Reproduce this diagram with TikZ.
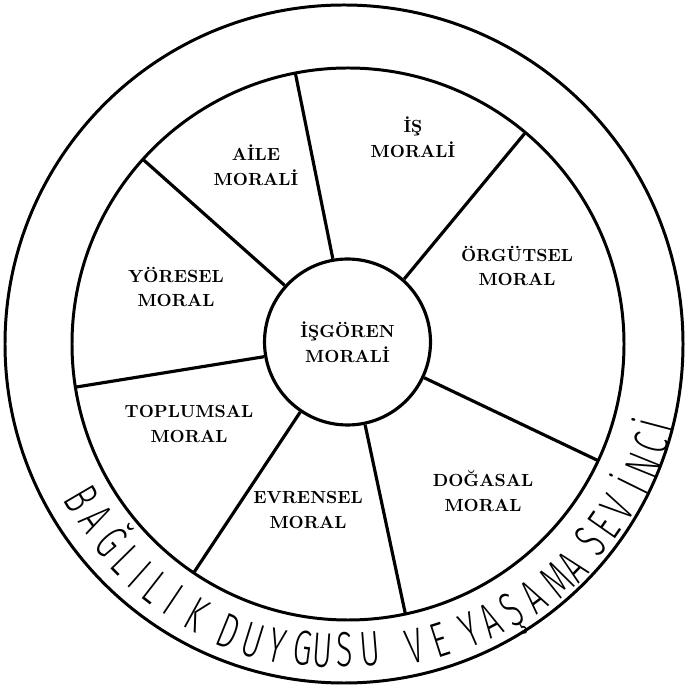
\documentclass[tikz,border=0pt]{standalone}
\usepackage{fontspec}
\newfontfamily\ringfont[UprightFont={* Light}, FakeStretch=0.62]{Fira Sans}

\begin{document}
\begin{tikzpicture}[
    x=0.02cm, y=0.02cm,
    rim/.style={line width=1.7pt},
    spoke/.style={line width=1.8pt},
    hub/.style={circle, draw, line width=1.8pt, minimum size=3.32cm, inner sep=0pt, align=center, font=\bfseries\fontsize{10}{14}\selectfont},
    sector/.style={align=center, font=\bfseries\fontsize{10}{14}\selectfont},
    letter/.style={anchor=center, inner sep=0pt, text height=19.3pt, text depth=0pt, font=\ringfont\fontsize{28}{32}\selectfont}
]
    \useasboundingbox (0,0) rectangle (685,686);
    \coordinate (ctr) at (345,342);
    \coordinate (ringc) at (348,342);
    \draw[rim] (344,342) circle[radius=339];
    \draw[rim] (ringc) circle[radius=276];
    \node[hub] (hub) at (347.5,344) {İŞGÖREN\\MORALİ};
    % spokes between hub and ring
    \foreach \a/\b [count=\i] in {100/101, 48/50, 335/335, 282/282, 236/236, 190/189, 138/138} {
        \coordinate (rim\i) at ([shift={(\b:276)}]ringc);
        \draw[spoke] (hub.\a) -- (rim\i);
    }
    \node[sector] (aile) at (256,521) {AİLE\\MORALİ};
    \node[sector] (is) at (413,549) {İŞ\\MORALİ};
    \node[sector] (orgut) at (517,420) {ÖRGÜTSEL\\MORAL};
    \node[sector] (yore) at (176,399) {YÖRESEL\\MORAL};
    \node[sector] (toplum) at (189,262) {TOPLUMSAL\\MORAL};
    \node[sector] (evren) at (308,176) {EVRENSEL\\MORAL};
    \node[sector] (doga) at (483,195) {DOĞASAL\\MORAL};
    % ring text, one letter at a time: letter/angle/radius
    \foreach \ch/\a/\r [count=\i] in {B/210.4/305, A/215.1/304, Ğ/220.3/306, L/224.5/308, I/228.4/309,
        L/232.1/309, I/236.2/308, K/241.3/309, D/247.9/310, U/252.8/310, Y/257.2/309,
        G/262.2/307, U/265.9/307, S/270/306, U/274.7/306, V/283/310, E/287.8/311,
        Y/293.6/312, A/297.7/312, Ş/302.1/314, A/306.7/315, M/311.9/317, A/315.7/318,
        S/321.1/315, E/325/316, V/329/318, İ/333.7/321, N/337.9/322, C/342.1/322, İ/345.2/323} {
        \node[letter, rotate=\a+90] (ch\i) at ([shift={(\a:\r)}]ctr) {\ch};
    }
\end{tikzpicture}
\end{document}
